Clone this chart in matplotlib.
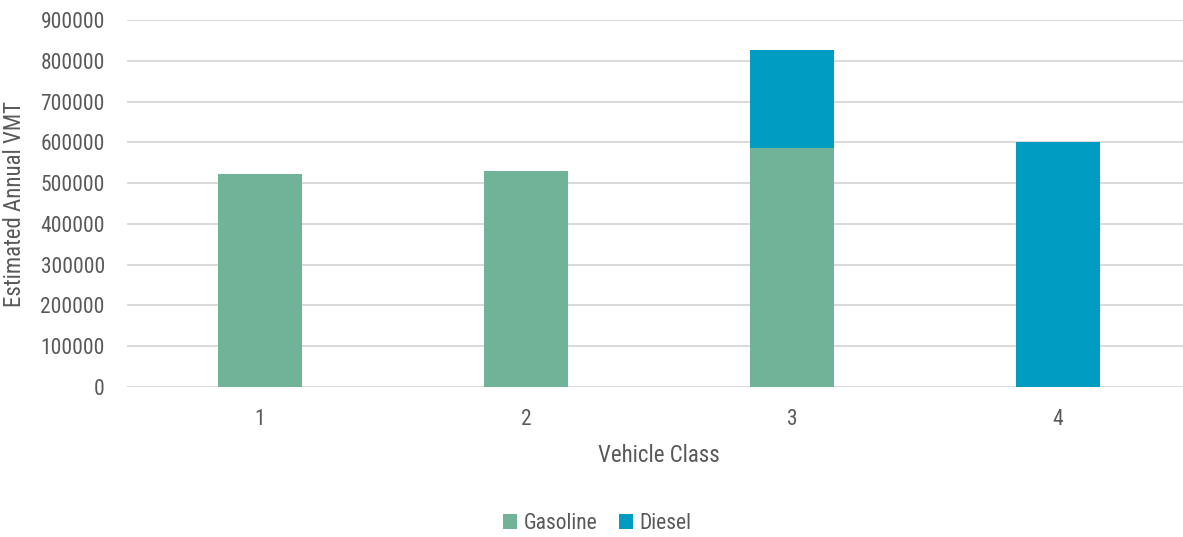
import numpy as np
import matplotlib.pyplot as plt
from matplotlib import font_manager

# data
classes = ['1', '2', '3', '4']
gasoline = [522000, 529000, 585000, 0]
diesel = [0, 0, 241000, 601000]
yticks = np.arange(0, 900001, 100000)

# look for a narrow face, the reference uses a condensed light font
narrow = None
for f in font_manager.fontManager.ttflist:
    if ('Condensed' in f.name or 'Narrow' in f.name or f.stretch in ('condensed', 'semi-condensed')) \
            and f.style == 'normal':
        if narrow is None or f.weight in (300, 'light'):
            narrow = f
if narrow is not None:
    fam, stretch = narrow.name, narrow.stretch
else:
    fam, stretch = 'Lato', 'normal'
plt.rcParams['font.family'] = [fam, 'DejaVu Sans']
plt.rcParams['font.stretch'] = stretch

txt = '#595959'
c_gas = '#71B399'
c_die = '#009CC2'

fig = plt.figure(figsize=(11.83, 5.37), dpi=100)
ax = fig.add_axes([0.1074, 0.2793, 0.8994, 0.6834])

x = np.arange(len(classes))
w = 0.316
ax.bar(x, gasoline, w, color=c_gas, label='Gasoline', zorder=3)
ax.bar(x, diesel, w, bottom=gasoline, color=c_die, label='Diesel', zorder=3)

ax.set_xlim(-0.5, 3.5)
ax.set_ylim(0, 900000)
ax.set_yticks(yticks)
ax.set_yticklabels([str(v) for v in yticks])
ax.set_xticks(x)
ax.set_xticklabels(classes)
ax.grid(axis='y', color='#D9D9D9', linewidth=1.4, zorder=0)
for s in ax.spines.values():
    s.set_visible(False)
ax.tick_params(length=0, labelsize=15.5, labelcolor=txt, pad=16)
ax.tick_params(axis='y', pad=16)

ax.set_xlabel('Vehicle Class', fontsize=16.5, color=txt, labelpad=10)
ax.set_ylabel('Estimated Annual VMT', fontsize=16.5, color=txt, labelpad=10)

fig.legend(loc='center', bbox_to_anchor=(0.505, 0.025), ncol=2, frameon=False,
           fontsize=15.5, labelcolor=txt, handlelength=0.65, handleheight=0.65,
           handletextpad=0.3, columnspacing=1.0)

fig.savefig('out.png', dpi=100)
